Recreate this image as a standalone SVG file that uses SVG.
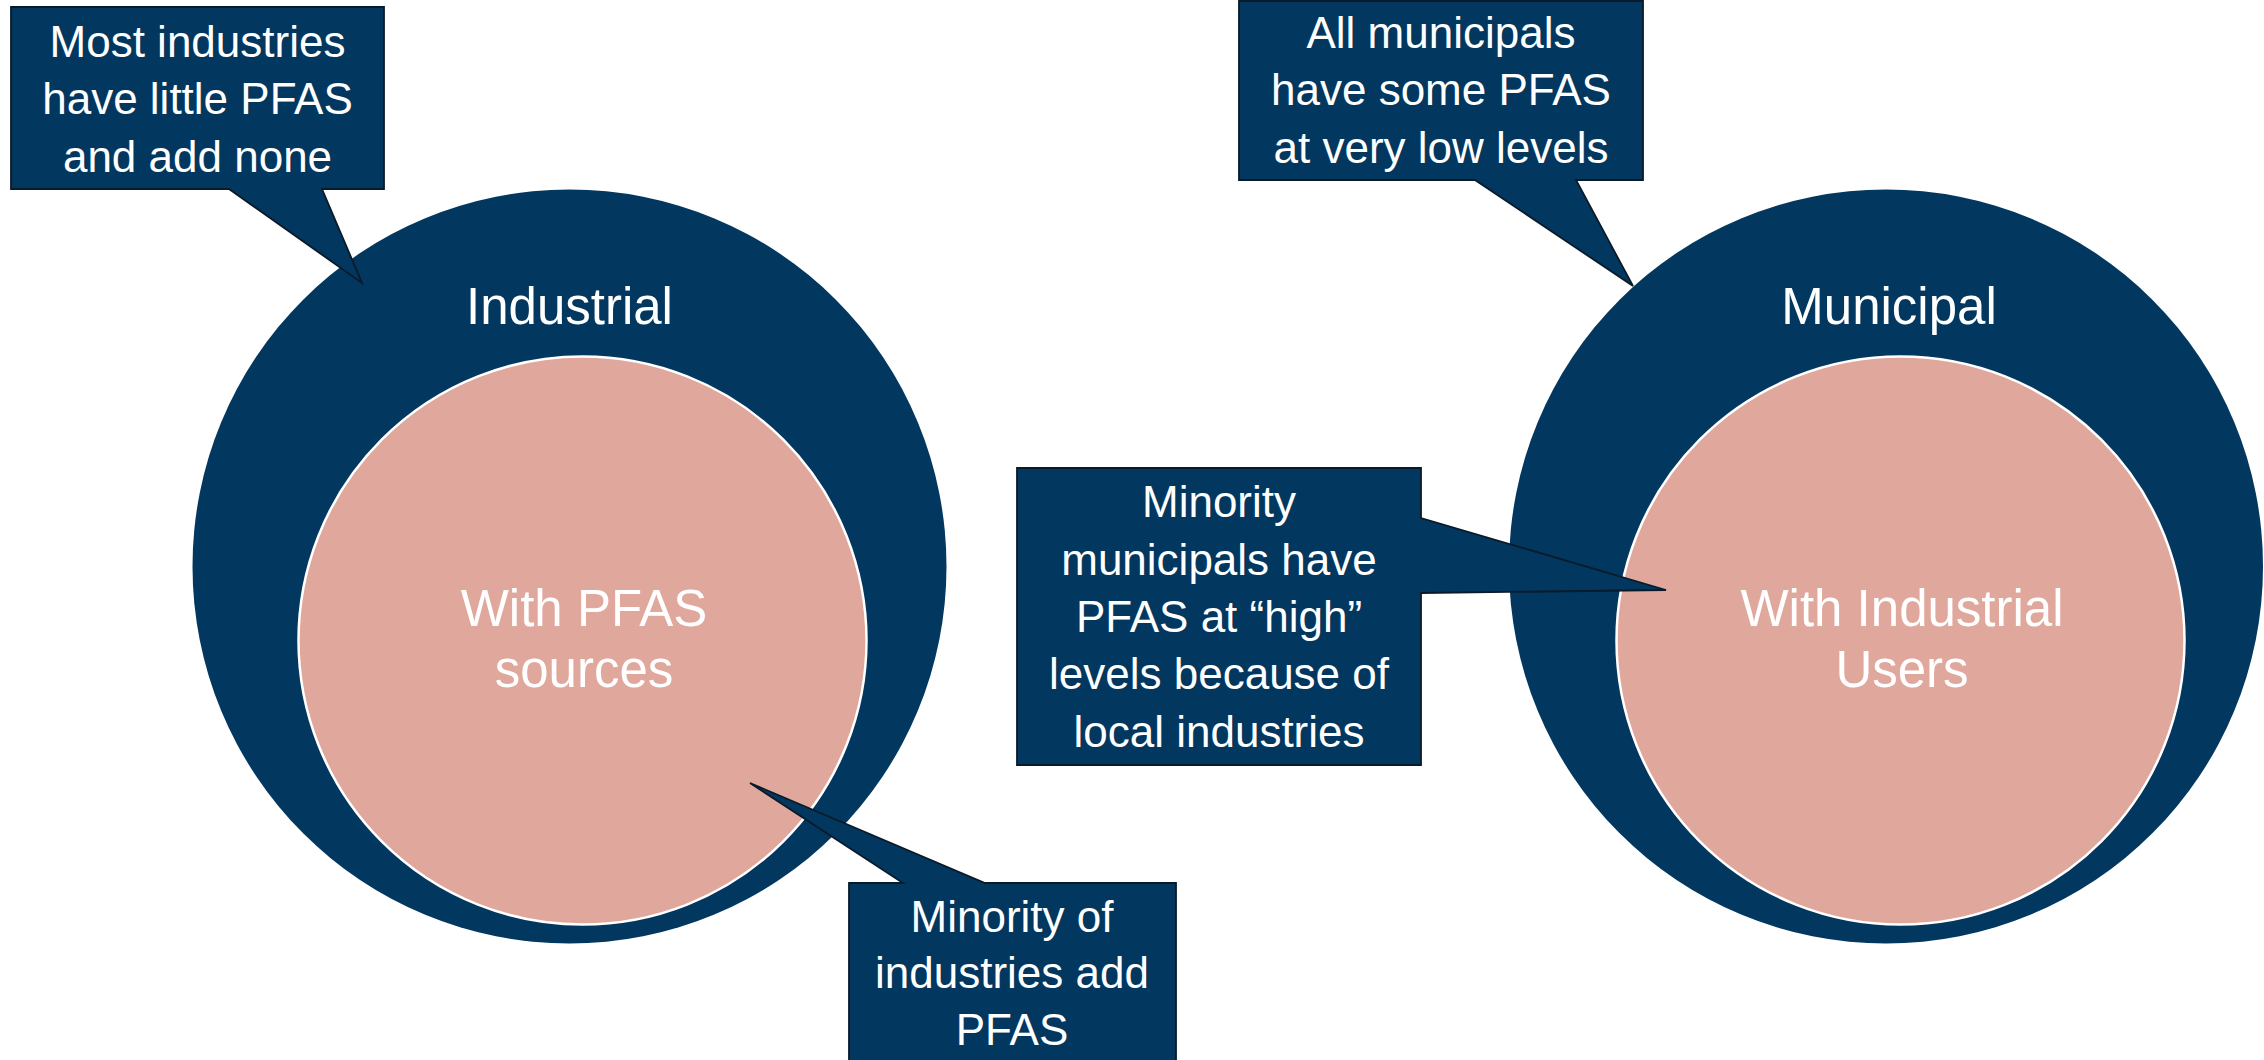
<svg xmlns="http://www.w3.org/2000/svg" width="2264" height="1060" viewBox="0 0 2264 1060">
<style>
.outer{fill:#02375f;}
.inner{fill:#e0a89c;stroke:#ffffff;stroke-width:2.5;}
.callout{fill:#02375f;stroke:#0b1a29;stroke-width:1.8;stroke-linejoin:miter;}
.lbl{font-family:"Liberation Sans",Arial,sans-serif;fill:#ffffff;text-anchor:middle;}
.big{font-size:51px;}
.ct{font-size:44px;}
</style>
<rect x="0" y="0" width="2264" height="1060" fill="#ffffff"/>
<g id="industrial">
  <circle class="outer" cx="569.5" cy="566.5" r="377"/>
  <text class="lbl big" x="569.5" y="324">Industrial</text>
</g>
<g id="with-pfas-sources">
  <circle class="inner" cx="582.5" cy="640.5" r="284"/>
  <text class="lbl big" x="584" y="626">With PFAS</text>
  <text class="lbl big" x="584" y="687">sources</text>
</g>
<g id="municipal">
  <circle class="outer" cx="1886" cy="566.5" r="377"/>
  <text class="lbl big" x="1889" y="324">Municipal</text>
</g>
<g id="with-industrial-users">
  <circle class="inner" cx="1900.5" cy="640.5" r="284"/>
  <text class="lbl big" x="1902" y="626">With Industrial</text>
  <text class="lbl big" x="1902" y="687">Users</text>
</g>
<g id="connectors"></g>
<g id="callout-most-industries">
  <path class="callout" d="M11,7 H384 V189 H322 L362,283 L229,189 H11 Z"/>
  <text class="lbl ct" x="197.5" y="57">Most industries</text>
  <text class="lbl ct" x="197.5" y="114">have little PFAS</text>
  <text class="lbl ct" x="197.5" y="172">and add none</text>
</g>
<g id="callout-all-municipals">
  <path class="callout" d="M1239,1 H1643 V180 H1576 L1633,286 L1475,180 H1239 Z"/>
  <text class="lbl ct" x="1441" y="48">All municipals</text>
  <text class="lbl ct" x="1441" y="105">have some PFAS</text>
  <text class="lbl ct" x="1441" y="163">at very low levels</text>
</g>
<g id="callout-minority-municipals">
  <path class="callout" d="M1017,468 H1421 V518 L1666,590 L1421,593 V765 H1017 Z"/>
  <text class="lbl ct" x="1219" y="517">Minority</text>
  <text class="lbl ct" x="1219" y="575">municipals have</text>
  <text class="lbl ct" x="1219" y="632">PFAS at “high”</text>
  <text class="lbl ct" x="1219" y="689">levels because of</text>
  <text class="lbl ct" x="1219" y="747">local industries</text>
</g>
<g id="callout-minority-industries">
  <path class="callout" d="M849,883 H903 L750,783 L985,883 H1176 V1065 H849 Z"/>
  <text class="lbl ct" x="1012" y="932">Minority of</text>
  <text class="lbl ct" x="1012" y="988">industries add</text>
  <text class="lbl ct" x="1012" y="1045">PFAS</text>
</g>
</svg>
